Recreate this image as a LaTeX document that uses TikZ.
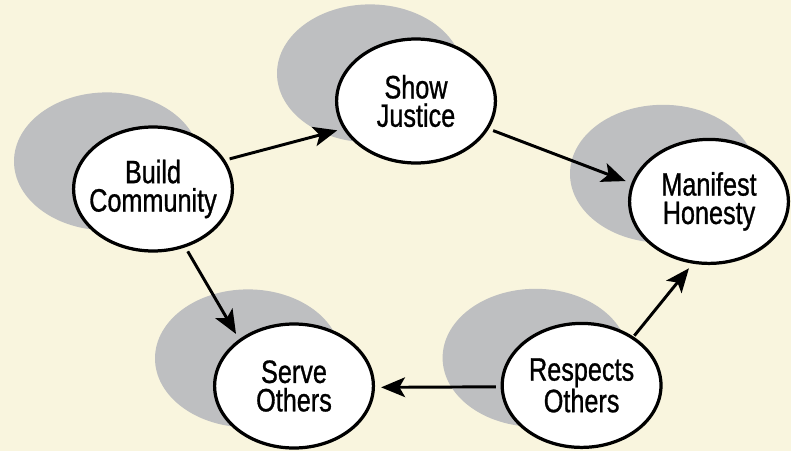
\documentclass[tikz,border=0pt]{standalone}
\usepackage{fontspec}
\usepackage{xcolor}
\usepackage{tikz}
\usetikzlibrary{arrows.meta,shapes,backgrounds}
\newfontfamily\condfont[FakeStretch=0.78,FakeBold=0.9]{Liberation Sans}
\definecolor{creambg}{RGB}{249,245,222}
\definecolor{shadowgray}{RGB}{190,191,193}

\begin{document}
\begin{tikzpicture}[
    virtue/.style={ellipse, draw, line width=2.3pt, fill=white,
      minimum width=3.97cm, minimum height=3.1cm,
      inner xsep=-8pt, inner ysep=0pt, outer sep=0pt, align=center,
      font=\condfont\fontsize{23}{20.2}\selectfont},
    backdrop/.style={fill=shadowgray},
    link/.style={-{Stealth[length=17pt,width=14pt,inset=4pt]}, line width=2.1pt,
      shorten <=4.5pt, shorten >=5.5pt}]
    \node[virtue] (build) at (3.825,6.55) {Build\\Community};
    \node[virtue] (justice) at (10.4,8.75) {Show\\Justice};
    \node[virtue] (honesty) at (17.725,6.24) {Manifest\\Honesty};
    \node[virtue] (serve) at (7.35,1.625) {Serve\\Others};
    \node[virtue] (respects) at (14.54,1.64) {Respects\\Others};
    \draw[link] (build.22.8) -- (justice.201.4);
    \draw[link] (justice.-21.9) -- (honesty.167.6);
    \draw[link] (build.-61.3) -- (serve.140.1);
    \draw[link] (respects.181) -- (serve.-1);
    \draw[link, shorten <=2pt] (respects.43.3) -- (honesty.256.9);
    % grey shadows behind each ellipse
    \begin{pgfonlayer}{background}
        \fill[creambg] (0,0) rectangle (19.775,11.275);
        \foreach \v in {build,justice,honesty,serve,respects}
            \fill[backdrop] ([shift={(-1.15,0.69)}]\v.center) ellipse [x radius=2.325cm, y radius=1.725cm];
    \end{pgfonlayer}
\end{tikzpicture}
\end{document}
